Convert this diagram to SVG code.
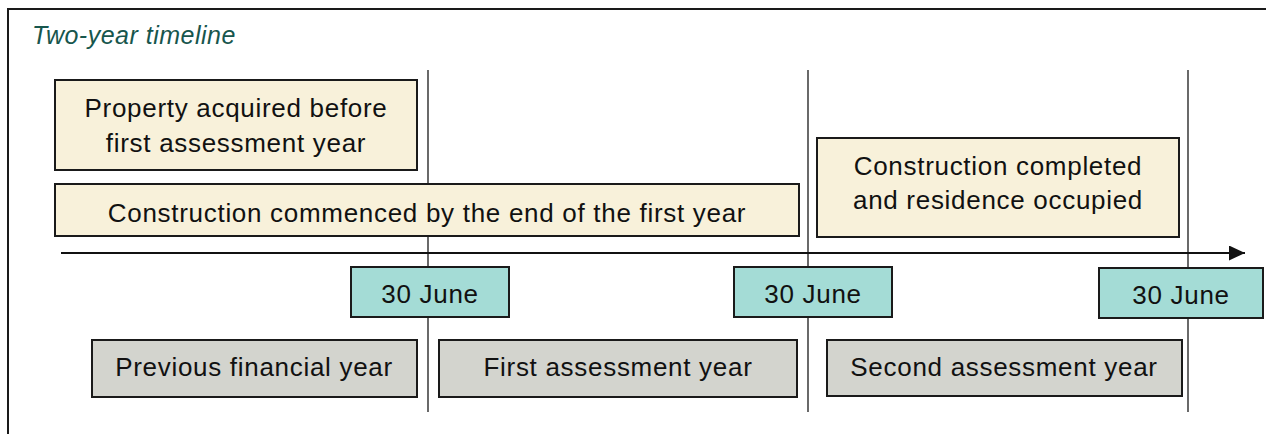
<svg xmlns="http://www.w3.org/2000/svg" width="1266" height="434" viewBox="0 0 1266 434">
<defs>
<style>
.t{font-family:"Liberation Sans",Arial,Helvetica,sans-serif;font-size:26px;letter-spacing:0.7px;fill:#111;text-anchor:middle}
.title{font-family:"Liberation Sans",Arial,Helvetica,sans-serif;font-size:25px;font-style:italic;letter-spacing:0.5px;fill:#17564d}
.y{fill:#f8f1da;stroke:#1a1a1a;stroke-width:2}
.j{fill:#a4dcd6;stroke:#1a1a1a;stroke-width:2}
.g{fill:#d3d4ce;stroke:#1a1a1a;stroke-width:2}
.v{stroke:#444;stroke-width:1.6;fill:none}
</style>
<marker id="ah" viewBox="0 0 16 15" refX="16" refY="7.5" markerWidth="16" markerHeight="15" markerUnits="userSpaceOnUse" orient="auto">
<path d="M0,0 L16,7.5 L0,15 Z" fill="#111"/>
</marker>
</defs>
<rect x="0" y="0" width="1266" height="434" fill="#fff"/>
<rect x="8" y="9" width="1280" height="450" fill="none" stroke="#1a1a1a" stroke-width="2"/>
<text class="title" x="32" y="44">Two-year timeline</text>
<g id="connectors">
<line class="v" x1="428" y1="70" x2="428" y2="412"/>
<line class="v" x1="808" y1="70" x2="808" y2="412"/>
<line class="v" x1="1188" y1="70" x2="1188" y2="412"/>
<line x1="61" y1="253" x2="1245" y2="253" stroke="#111" stroke-width="2" marker-end="url(#ah)"/>
</g>
<g id="acquired">
<rect class="y" x="55" y="80" width="362" height="90"/>
<text class="t" x="236" y="117">Property acquired before</text>
<text class="t" x="236" y="152">first assessment year</text>
</g>
<g id="commenced">
<rect class="y" x="55" y="184" width="744" height="52"/>
<text class="t" x="427" y="222">Construction commenced by the end of the first year</text>
</g>
<g id="completed">
<rect class="y" x="817" y="138" width="362" height="99"/>
<text class="t" x="998" y="175">Construction completed</text>
<text class="t" x="998" y="209">and residence occupied</text>
</g>
<g id="june1">
<rect class="j" x="351" y="267" width="158" height="50"/>
<text class="t" x="430" y="303">30 June</text>
</g>
<g id="june2">
<rect class="j" x="734" y="267" width="158" height="50"/>
<text class="t" x="813" y="303">30 June</text>
</g>
<g id="june3">
<rect class="j" x="1099" y="268" width="164" height="50"/>
<text class="t" x="1181" y="304">30 June</text>
</g>
<g id="prev">
<rect class="g" x="92" y="340" width="325" height="57"/>
<text class="t" x="254" y="376">Previous financial year</text>
</g>
<g id="first">
<rect class="g" x="439" y="340" width="358" height="57"/>
<text class="t" x="618" y="376">First assessment year</text>
</g>
<g id="second">
<rect class="g" x="827" y="340" width="355" height="56"/>
<text class="t" x="1004" y="376">Second assessment year</text>
</g>
</svg>
